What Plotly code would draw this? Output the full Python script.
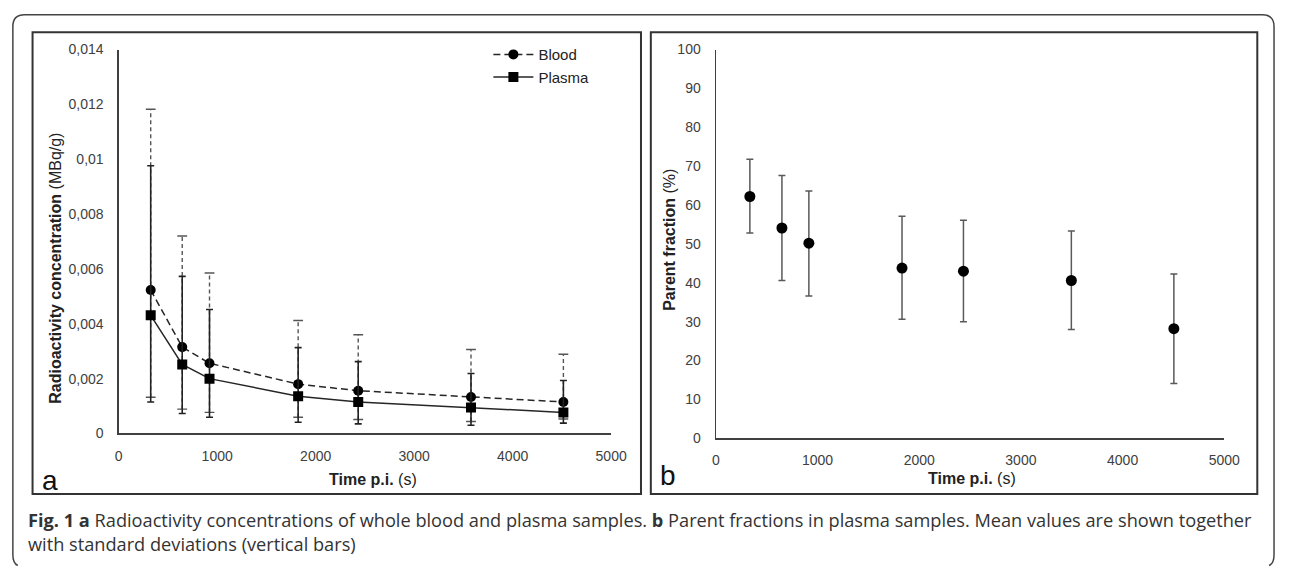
import plotly.graph_objects as go

# ---------------- data ----------------
time_a = [325, 645, 922, 1822, 2432, 3577, 4515]
blood_mean = [0.00523, 0.00315, 0.00256, 0.00180, 0.00156, 0.00133, 0.00115]
blood_upper = [0.01182, 0.00720, 0.00585, 0.00412, 0.00360, 0.00306, 0.00289]
blood_lower = [0.00132, 0.00089, 0.00077, 0.00059, 0.00051, 0.00044, 0.00053]
plasma_mean = [0.00431, 0.00252, 0.00200, 0.00136, 0.00115, 0.00095, 0.00077]
plasma_upper = [0.00976, 0.00573, 0.00452, 0.00313, 0.00262, 0.00219, 0.00193]
plasma_lower = [0.00115, 0.00073, 0.00059, 0.00041, 0.00035, 0.00030, 0.00038]

time_b = [335, 650, 915, 1831, 2435, 3496, 4504]
parent_mean = [62.2, 54.1, 50.2, 43.8, 43.0, 40.6, 28.2]
parent_upper = [71.8, 67.6, 63.6, 57.1, 56.1, 53.3, 42.3]
parent_lower = [52.8, 40.6, 36.6, 30.6, 30.0, 28.0, 14.1]

x_ticks = [0, 1000, 2000, 3000, 4000, 5000]
x_ticktext = ["0", "1000", "2000", "3000", "4000", "5000"]
ya_ticks = [0, 0.002, 0.004, 0.006, 0.008, 0.010, 0.012, 0.014]
ya_ticktext = ["0", "0,002", "0,004", "0,006", "0,008", "0,01", "0,012", "0,014"]
yb_ticks = [0, 10, 20, 30, 40, 50, 60, 70, 80, 90, 100]
yb_ticktext = [str(v) for v in yb_ticks]

caption = ("<b>Fig. 1 a</b> Radioactivity concentrations of whole blood and plasma samples. "
           "<b>b</b> Parent fractions in plasma samples. Mean values are shown together"
           "<br>with standard deviations (vertical bars)")

# ---------------- layout helpers ----------------
W, H = 1292, 574
def fx(p):
    return p / W
def fy(p):
    return 1 - p / H

AX_FONT = "Liberation Sans, Arial, sans-serif"
CAP_FONT = "Open Sans, Noto Sans, sans-serif"
DARK = "#262626"
TICKC = "#404040"

fig = go.Figure()

# blood error bars (dashed) built from the data arrays
ex, ey = [], []
for t, lo, hi in zip(time_a, blood_lower, blood_upper):
    ex += [t, t, None]
    ey += [lo, hi, None]
fig.add_trace(go.Scatter(x=ex, y=ey, mode="lines", showlegend=False, hoverinfo="skip",
                         line=dict(color="#555555", width=1.4, dash="4px,3px"),
                         xaxis="x", yaxis="y"))
fig.add_trace(go.Scatter(x=time_a + time_a, y=blood_upper + blood_lower, mode="markers",
                         showlegend=False, hoverinfo="skip",
                         marker=dict(symbol="line-ew", size=7, line=dict(color="#555555", width=1.4)),
                         xaxis="x", yaxis="y"))

# blood line
fig.add_trace(go.Scatter(x=time_a, y=blood_mean, mode="lines+markers", name="Blood",
                         line=dict(color=DARK, width=1.5, dash="7px,4px"),
                         marker=dict(symbol="circle", size=10, color="black"),
                         xaxis="x", yaxis="y"))
# plasma line with error bars
fig.add_trace(go.Scatter(x=time_a, y=plasma_mean, mode="lines+markers", name="Plasma",
                         line=dict(color=DARK, width=1.5),
                         marker=dict(symbol="square", size=10, color="black"),
                         error_y=dict(type="data", symmetric=False,
                                      array=[u - m for u, m in zip(plasma_upper, plasma_mean)],
                                      arrayminus=[m - l for m, l in zip(plasma_mean, plasma_lower)],
                                      color="#222222", thickness=1.6, width=3.5),
                         xaxis="x", yaxis="y"))

# parent fraction
fig.add_trace(go.Scatter(x=time_b, y=parent_mean, mode="markers", showlegend=False,
                         marker=dict(symbol="circle", size=11, color="black"),
                         error_y=dict(type="data", symmetric=False,
                                      array=[u - m for u, m in zip(parent_upper, parent_mean)],
                                      arrayminus=[m - l for m, l in zip(parent_mean, parent_lower)],
                                      color="#595959", thickness=1.5, width=3.5),
                         xaxis="x2", yaxis="y2"))

axis_common = dict(showgrid=False, zeroline=False, showline=True, linecolor=TICKC, linewidth=1.3,
                   ticks="outside", tickcolor="rgba(0,0,0,0)", fixedrange=True,
                   tickfont=dict(family=AX_FONT, size=14, color=TICKC))

fig.update_layout(
    width=W, height=H,
    margin=dict(l=0, r=0, t=0, b=0),
    paper_bgcolor="white", plot_bgcolor="white",
    xaxis=dict(domain=[fx(116.5), fx(616.7)], range=[0, 5000], anchor="y",
               tickvals=x_ticks, ticktext=x_ticktext, ticklen=9, **axis_common),
    yaxis=dict(domain=[fy(437.7), fy(42.7)], range=[0, 0.014], anchor="x",
               tickvals=ya_ticks, ticktext=ya_ticktext, ticklen=11, **axis_common),
    xaxis2=dict(domain=[fx(723), fx(1239.5)], range=[0, 5000], anchor="y2",
                tickvals=x_ticks, ticktext=x_ticktext, ticklen=9, **axis_common),
    yaxis2=dict(domain=[fy(442.7), fy(42.7)], range=[0, 100], anchor="x2",
                tickvals=yb_ticks, ticktext=yb_ticktext, ticklen=11, **axis_common),
    showlegend=True,
    legend=dict(x=fx(492), y=fy(31), xanchor="left", yanchor="top",
                bgcolor="rgba(0,0,0,0)", borderwidth=0, itemwidth=40,
                font=dict(family=AX_FONT, size=15, color="#222222"),
                tracegroupgap=0),
)

# frames
shapes = []
shapes.append(dict(type="rect", xref="paper", yref="paper",
                   x0=fx(29), x1=fx(647), y0=fy(500), y1=fy(25),
                   line=dict(color="#333333", width=2)))
shapes.append(dict(type="rect", xref="paper", yref="paper",
                   x0=fx(657), x1=fx(1273), y0=fy(500), y1=fy(25),
                   line=dict(color="#333333", width=2)))
# outer rounded border, open at the bottom (its bottom edge lies below the visible area)
x0, x1, y0, r = 9, 1290, 7, 12
yb = 573.5
path = (f"M{fx(x0 + 5)},{fy(yb)} Q{fx(x0)},{fy(yb - 2)} {fx(x0)},{fy(yb - 11)} "
        f"L{fx(x0)},{fy(y0 + r)} Q{fx(x0)},{fy(y0)} {fx(x0 + r)},{fy(y0)} "
        f"L{fx(x1 - r)},{fy(y0)} Q{fx(x1)},{fy(y0)} {fx(x1)},{fy(y0 + r)} "
        f"L{fx(x1)},{fy(yb - 11)} Q{fx(x1)},{fy(yb - 2)} {fx(x1 - 5)},{fy(yb)}")
shapes.append(dict(type="path", xref="paper", yref="paper", path=path,
                   line=dict(color="#444444", width=1.5)))
fig.update_layout(shapes=shapes)

ann = []
def add_text(text, x, y, size, family=AX_FONT, color="#222222", angle=0, xanchor="center", align="center"):
    ann.append(dict(text=text, x=fx(x), y=fy(y), xref="paper", yref="paper",
                    showarrow=False, textangle=angle, xanchor=xanchor, yanchor="middle",
                    align=align, font=dict(family=family, size=size, color=color)))

add_text("<b>Radioactivity concentration</b> (MBq/g)", 52, 268, 16, angle=-90)
add_text("<b>Time p.i.</b> (s)", 375, 485, 16)
add_text("<b>Parent fraction</b> (%)", 676, 239, 16, angle=-90)
add_text("<b>Time p.i.</b> (s)", 983, 484, 16)
add_text("a", 47, 486, 28, color="#111111")
add_text("b", 674, 481, 28, color="#111111")
add_text(caption, 22, 539, 18.2, family=CAP_FONT, color="#333333", xanchor="left", align="left")
fig.update_layout(annotations=ann)

fig.write_html("out.html", config={"displayModeBar": False, "staticPlot": True},
               post_script="document.body.style.margin='0';document.documentElement.style.overflow='hidden';")
